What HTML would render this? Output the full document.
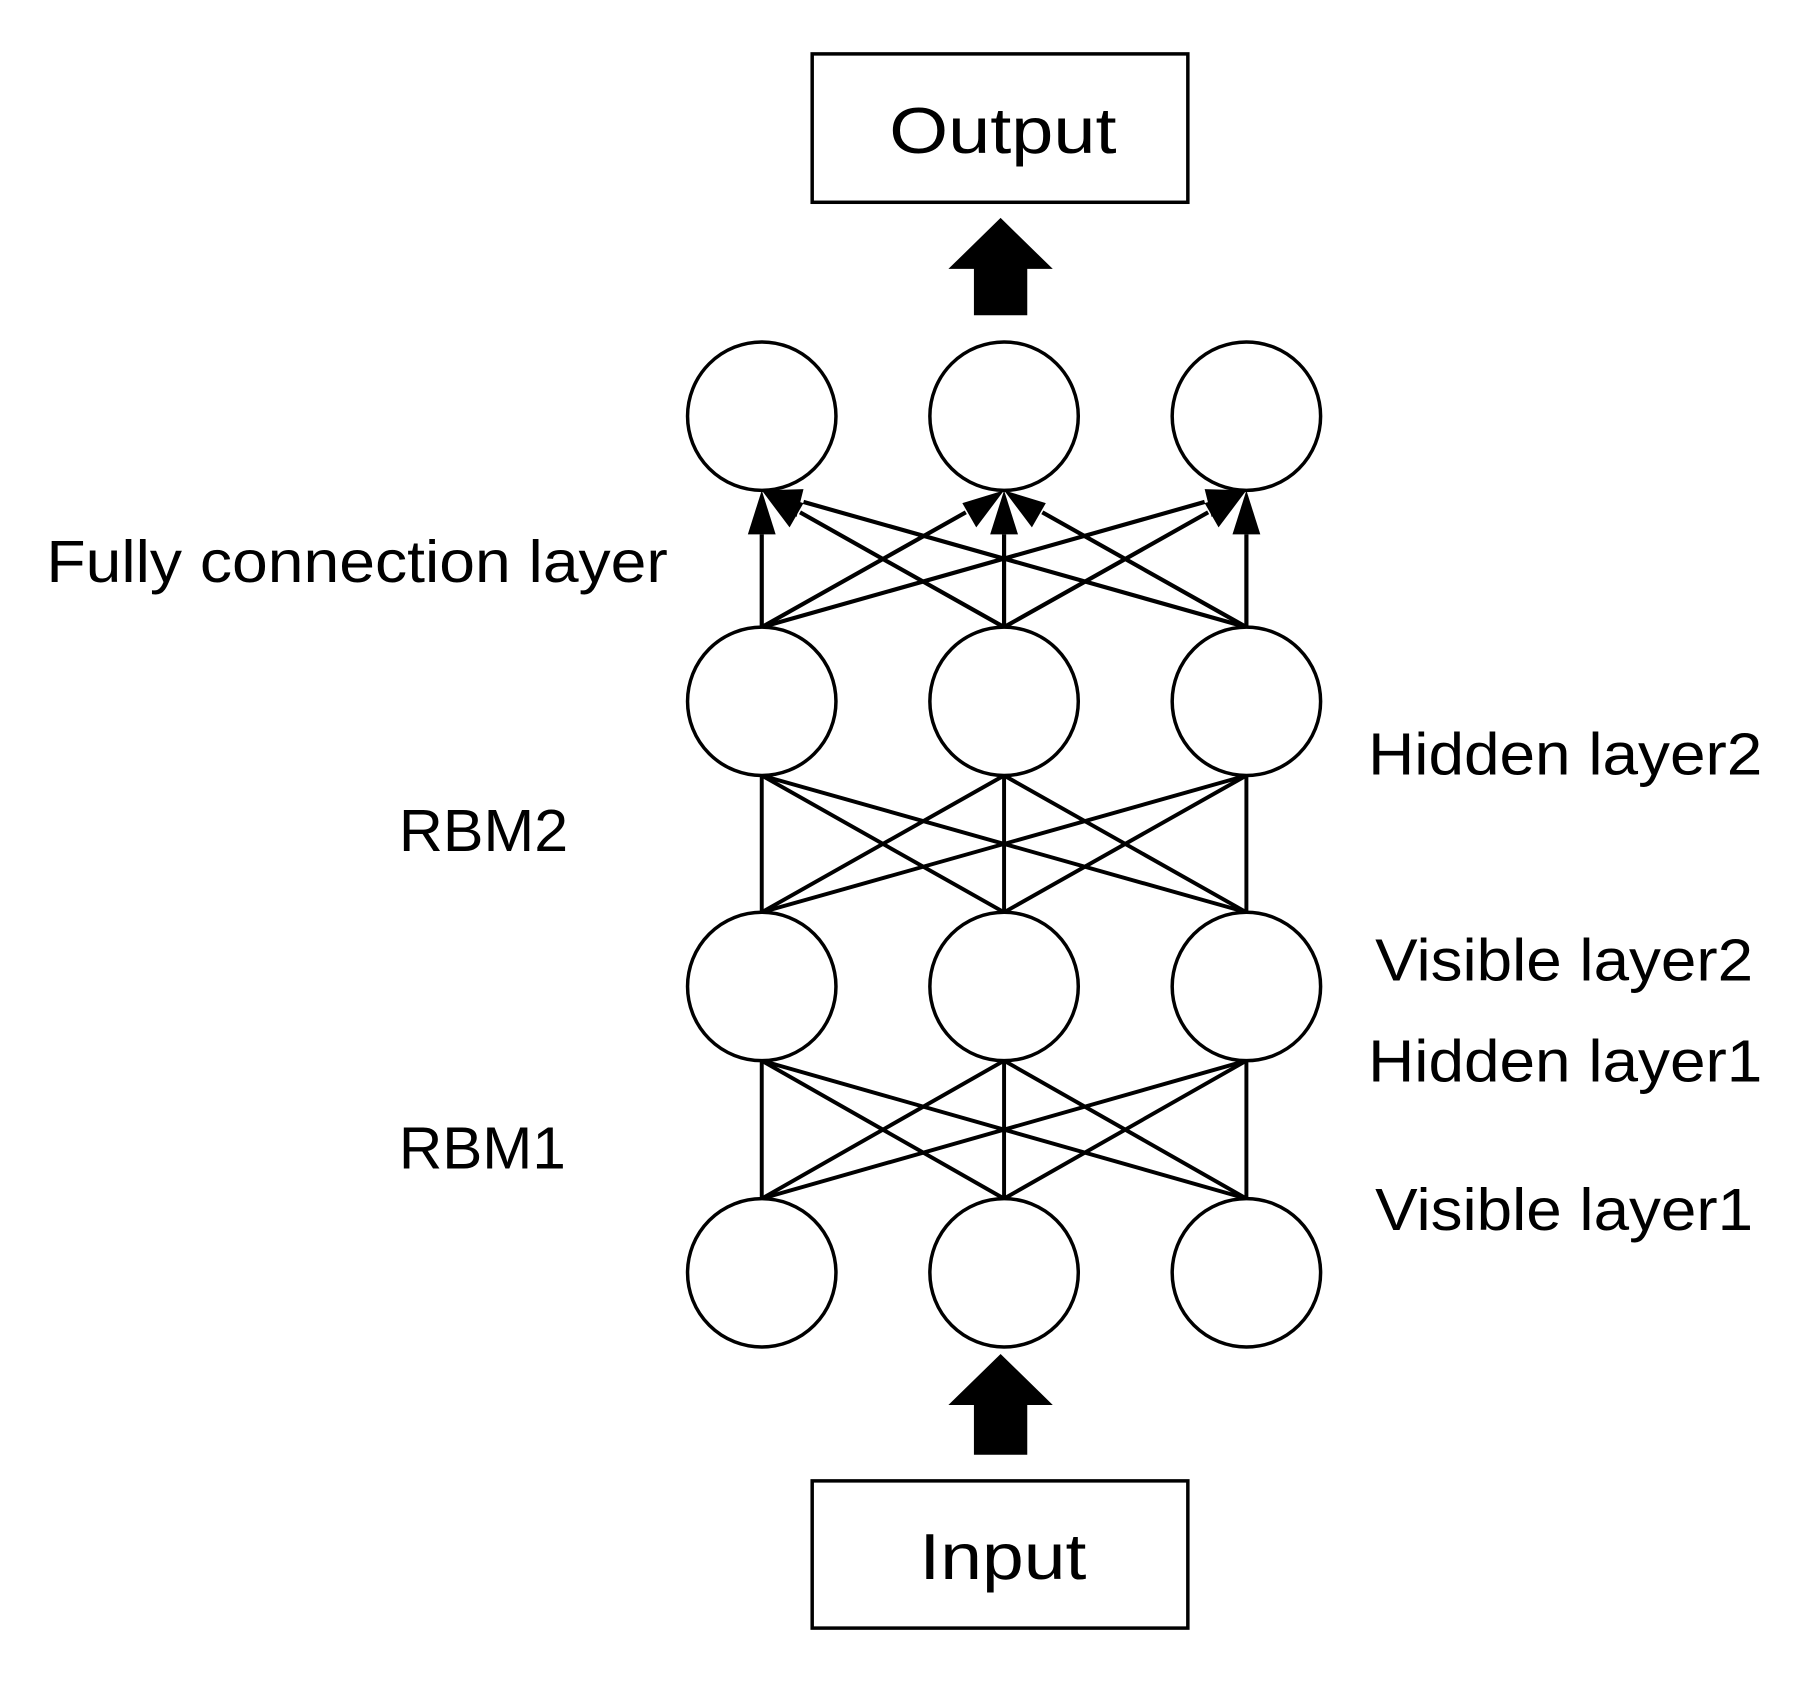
<!DOCTYPE html>
<html><head><meta charset="utf-8"><style>
html,body{margin:0;padding:0;background:#fff;}
svg{display:block;}
text{font-family:"Liberation Sans",sans-serif;fill:#000;}
</style></head><body>
<svg width="1818" height="1682" viewBox="0 0 1568 1451" preserveAspectRatio="none" xmlns="http://www.w3.org/2000/svg">
<rect width="1568" height="1451" fill="#fff"/>
<rect x="700.5" y="46.5" width="324" height="128" fill="#fff" stroke="#000" stroke-width="3"/>
<text x="865" y="132" font-size="56" text-anchor="middle" textLength="196" lengthAdjust="spacingAndGlyphs">Output</text>
<polygon points="863,188 908,232 886,232 886,272 840,272 840,232 818,232" fill="#000"/>
<rect x="700.5" y="1277.5" width="324" height="127" fill="#fff" stroke="#000" stroke-width="3"/>
<text x="865" y="1362" font-size="56" text-anchor="middle" textLength="144" lengthAdjust="spacingAndGlyphs">Input</text>
<polygon points="863,1168 908,1212 886,1212 886,1255 840,1255 840,1212 818,1212" fill="#000"/>

<g stroke="#000" stroke-width="3.4" fill="none">
<line x1="657" y1="787" x2="657" y2="669"/><line x1="657" y1="787" x2="866" y2="669"/><line x1="657" y1="787" x2="1075" y2="669"/>
<line x1="866" y1="787" x2="657" y2="669"/><line x1="866" y1="787" x2="866" y2="669"/><line x1="866" y1="787" x2="1075" y2="669"/>
<line x1="1075" y1="787" x2="657" y2="669"/><line x1="1075" y1="787" x2="866" y2="669"/><line x1="1075" y1="787" x2="1075" y2="669"/>
<line x1="657" y1="1034" x2="657" y2="915"/><line x1="657" y1="1034" x2="866" y2="915"/><line x1="657" y1="1034" x2="1075" y2="915"/>
<line x1="866" y1="1034" x2="657" y2="915"/><line x1="866" y1="1034" x2="866" y2="915"/><line x1="866" y1="1034" x2="1075" y2="915"/>
<line x1="1075" y1="1034" x2="657" y2="915"/><line x1="1075" y1="1034" x2="866" y2="915"/><line x1="1075" y1="1034" x2="1075" y2="915"/>
</g>
<g stroke="#000" stroke-width="3.6" fill="#000">
<line x1="657" y1="541" x2="657" y2="461"/><polygon points="657,423 669,461 645,461" stroke="none"/>
<line x1="866" y1="541" x2="866" y2="461"/><polygon points="866,423 878,461 854,461" stroke="none"/>
<line x1="1075" y1="541" x2="1075" y2="461"/><polygon points="1075,423 1087,461 1063,461" stroke="none"/>
<line x1="657" y1="541" x2="833" y2="442"/><polygon points="866,423 842,455 830,434" stroke="none"/>
<line x1="657" y1="541" x2="1039" y2="433"/><polygon points="1075,423 1045,446 1039,422" stroke="none"/>
<line x1="866" y1="541" x2="690" y2="442"/><polygon points="657,423 693,434 681,455" stroke="none"/>
<line x1="866" y1="541" x2="1042" y2="442"/><polygon points="1075,423 1051,455 1039,434" stroke="none"/>
<line x1="1075" y1="541" x2="693" y2="433"/><polygon points="657,423 693,422 687,446" stroke="none"/>
<line x1="1075" y1="541" x2="899" y2="442"/><polygon points="866,423 902,434 890,455" stroke="none"/>
</g>
<g fill="#fff" stroke="#000" stroke-width="3">
<circle cx="657" cy="359" r="64"/><circle cx="866" cy="359" r="64"/><circle cx="1075" cy="359" r="64"/>
<circle cx="657" cy="605" r="64"/><circle cx="866" cy="605" r="64"/><circle cx="1075" cy="605" r="64"/>
<circle cx="657" cy="851" r="64"/><circle cx="866" cy="851" r="64"/><circle cx="1075" cy="851" r="64"/>
<circle cx="657" cy="1098" r="64"/><circle cx="866" cy="1098" r="64"/><circle cx="1075" cy="1098" r="64"/>
</g>
<g font-size="51">
<text x="40" y="502" textLength="536" lengthAdjust="spacingAndGlyphs">Fully connection layer</text>
<text x="344" y="734" textLength="146" lengthAdjust="spacingAndGlyphs">RBM2</text>
<text x="344" y="1008" textLength="144" lengthAdjust="spacingAndGlyphs">RBM1</text>
<text x="1180" y="668" textLength="340" lengthAdjust="spacingAndGlyphs">Hidden layer2</text>
<text x="1186" y="846" textLength="326" lengthAdjust="spacingAndGlyphs">Visible layer2</text>
<text x="1180" y="933" textLength="340" lengthAdjust="spacingAndGlyphs">Hidden layer1</text>
<text x="1186" y="1061" textLength="326" lengthAdjust="spacingAndGlyphs">Visible layer1</text>
</g>
</svg>
</body></html>
